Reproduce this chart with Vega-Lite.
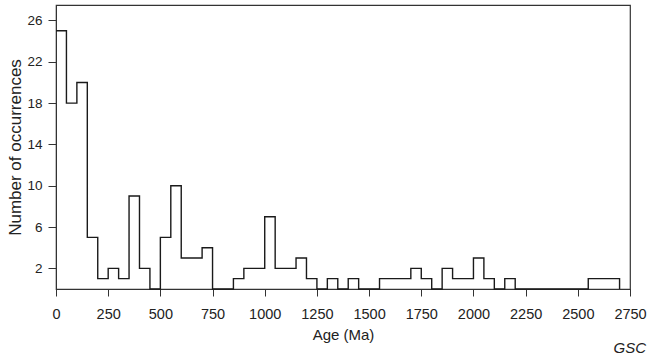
{
  "$schema": "https://vega.github.io/schema/vega-lite/v6.json",
  "width": 574,
  "height": 284,
  "autosize": "none",
  "padding": {"left": 56, "top": 5, "right": 19, "bottom": 73},
  "background": "white",
  "config": {
    "view": {"stroke": "#333", "strokeWidth": 1.2},
    "font": "Liberation Sans"
  },
  "title": {
    "text": "GSC",
    "orient": "bottom",
    "anchor": "end",
    "fontStyle": "italic",
    "fontWeight": "normal",
    "fontSize": 15,
    "color": "#222",
    "font": "Liberation Sans",
    "offset": -2,
    "dx": 0
  },
  "data": {
    "values": [
      {"age": 0, "count": 25}, {"age": 50, "count": 18}, {"age": 100, "count": 20}, {"age": 150, "count": 5},
      {"age": 200, "count": 1}, {"age": 250, "count": 2}, {"age": 300, "count": 1}, {"age": 350, "count": 9},
      {"age": 400, "count": 2}, {"age": 450, "count": 0}, {"age": 500, "count": 5}, {"age": 550, "count": 10},
      {"age": 600, "count": 3}, {"age": 650, "count": 3}, {"age": 700, "count": 4}, {"age": 750, "count": 0},
      {"age": 800, "count": 0}, {"age": 850, "count": 1}, {"age": 900, "count": 2}, {"age": 950, "count": 2},
      {"age": 1000, "count": 7}, {"age": 1050, "count": 2}, {"age": 1100, "count": 2}, {"age": 1150, "count": 3},
      {"age": 1200, "count": 1}, {"age": 1250, "count": 0}, {"age": 1300, "count": 1}, {"age": 1350, "count": 0},
      {"age": 1400, "count": 1}, {"age": 1450, "count": 0}, {"age": 1500, "count": 0}, {"age": 1550, "count": 1},
      {"age": 1600, "count": 1}, {"age": 1650, "count": 1}, {"age": 1700, "count": 2}, {"age": 1750, "count": 1},
      {"age": 1800, "count": 0}, {"age": 1850, "count": 2}, {"age": 1900, "count": 1}, {"age": 1950, "count": 1},
      {"age": 2000, "count": 3}, {"age": 2050, "count": 1}, {"age": 2100, "count": 0}, {"age": 2150, "count": 1},
      {"age": 2200, "count": 0}, {"age": 2250, "count": 0}, {"age": 2300, "count": 0}, {"age": 2350, "count": 0},
      {"age": 2400, "count": 0}, {"age": 2450, "count": 0}, {"age": 2500, "count": 0}, {"age": 2550, "count": 1},
      {"age": 2600, "count": 1}, {"age": 2650, "count": 1}, {"age": 2700, "count": 0}
    ]
  },
  "mark": {"type": "line", "interpolate": "step-after", "color": "#1a1a1a", "strokeWidth": 1.4},
  "encoding": {
    "x": {
      "field": "age",
      "type": "quantitative",
      "scale": {"domain": [0, 2750], "nice": false, "zero": true},
      "axis": {
        "title": "Age (Ma)",
        "values": [0, 250, 500, 750, 1000, 1250, 1500, 1750, 2000, 2250, 2500, 2750],
        "format": "d",
        "labelFlush": false,
        "labelOverlap": false,
        "grid": false,
        "tickSize": 7,
        "tickColor": "#333",
        "domainColor": "#333",
        "labelFontSize": 14.5,
        "labelColor": "#222",
        "labelPadding": 11,
        "titleFontSize": 15,
        "titleFontWeight": "normal",
        "titleColor": "#222",
        "titlePadding": 7
      }
    },
    "y": {
      "field": "count",
      "type": "quantitative",
      "scale": {"domain": [0, 27.5], "nice": false},
      "axis": {
        "title": "Number of occurrences",
        "values": [2, 6, 10, 14, 18, 22, 26],
        "grid": false,
        "tickSize": 8,
        "tickColor": "#333",
        "domainColor": "#333",
        "labelFontSize": 13.5,
        "labelColor": "#222",
        "labelPadding": 6,
        "titleFontSize": 17,
        "titleFontWeight": "normal",
        "titleColor": "#222",
        "titlePadding": 2
      }
    }
  }
}
